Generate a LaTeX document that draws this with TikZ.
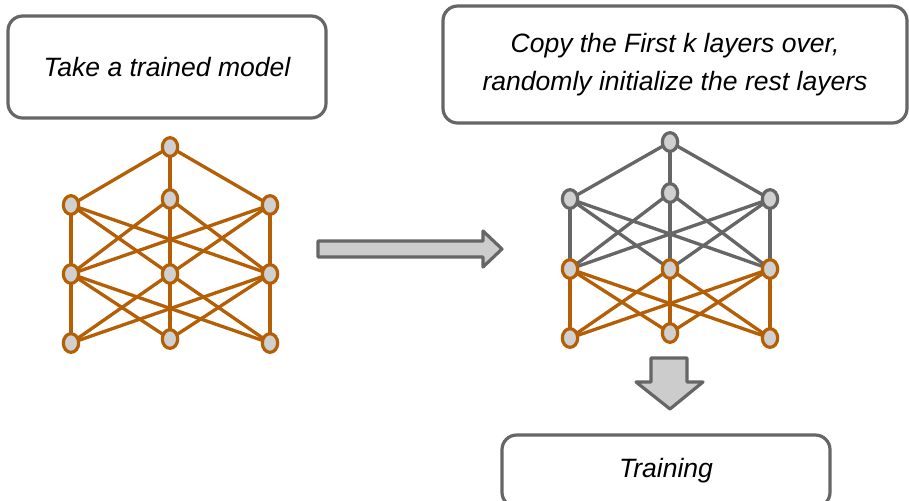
\documentclass[tikz,border=0pt]{standalone}
\usepackage{fontspec}
\setmainfont{Liberation Sans}
\usetikzlibrary{shapes.geometric,backgrounds}
\definecolor{rust}{HTML}{B45F06}
\definecolor{slate}{HTML}{666666}
\definecolor{nodefill}{HTML}{D0D0D0}
\definecolor{arrowfill}{HTML}{CCCCCC}
\begin{document}
\begin{tikzpicture}[x=0.75pt,y=-0.75pt,
  neuron/.style={ellipse, draw, line width=2.4pt, fill=nodefill,
    minimum width=11.5pt, minimum height=14pt, inner sep=0pt},
  hot/.style={draw=rust},
  cold/.style={draw=slate},
  wire/.style={line width=2.5pt},
  card/.style={draw=slate, line width=2.4pt, rounded corners=11pt, fill=white,
    font=\fontsize{19.9}{29}\selectfont\itshape, align=center, inner sep=0pt},
  blockarrow/.style={draw=slate, fill=arrowfill, line width=2.4pt, line join=round}
]
\useasboundingbox (0,0) rectangle (909,500);
\clip (0,0) rectangle (909,500);

% caption cards
\node[card, minimum width=238.5pt, minimum height=76.5pt] (take) at (167,67) {Take a trained model};
\node[card, minimum width=348pt, minimum height=87.75pt] (copy) at (675,64.5)
  {Copy the First k layers over,\\randomly initialize the rest layers};
\node[card, minimum width=246pt, minimum height=54pt] (train) at (666,471) {Training};

% trained network
\node[neuron, hot] (la) at (170,147) {};
\node[neuron, hot] (lb1) at (71,205) {};
\node[neuron, hot] (lb2) at (170,199) {};
\node[neuron, hot] (lb3) at (270,205) {};
\node[neuron, hot] (lc1) at (71,274) {};
\node[neuron, hot] (lc2) at (170,274) {};
\node[neuron, hot] (lc3) at (270,274) {};
\node[neuron, hot] (ld1) at (71,343) {};
\node[neuron, hot] (ld2) at (170,339) {};
\node[neuron, hot] (ld3) at (270,343) {};

% transferred network
\node[neuron, cold] (ra) at (670,142) {};
\node[neuron, cold] (rb1) at (570,199) {};
\node[neuron, cold] (rb2) at (670,193) {};
\node[neuron, cold] (rb3) at (770,199) {};
\node[neuron, hot] (rc1) at (570,269) {};
\node[neuron, hot] (rc2) at (670,269) {};
\node[neuron, hot] (rc3) at (770,269) {};
\node[neuron, hot] (rd1) at (570,338) {};
\node[neuron, hot] (rd2) at (670,333) {};
\node[neuron, hot] (rd3) at (770,338) {};

\begin{pgfonlayer}{background}
  \foreach \j in {1,2,3} {
    \draw[wire, rust] (la.center) -- (lb\j.center);
    \draw[wire, slate] (ra.center) -- (rb\j.center);
    \foreach \k in {1,2,3} {
      \draw[wire, rust] (lb\j.center) -- (lc\k.center);
      \draw[wire, rust] (lc\j.center) -- (ld\k.center);
      \draw[wire, slate] (rb\j.center) -- (rc\k.center);
      \draw[wire, rust] (rc\j.center) -- (rd\k.center);
    }
  }
\end{pgfonlayer}

% block arrows
\draw[blockarrow] (318,241) -- (483,241) -- (483,231) -- (502,249) -- (483,267)
  -- (483,257) -- (318,257) -- cycle;
\draw[blockarrow] (651,358) -- (687,358) -- (687,382) -- (703,382) -- (670,409)
  -- (636,382) -- (651,382) -- cycle;
\end{tikzpicture}
\end{document}
